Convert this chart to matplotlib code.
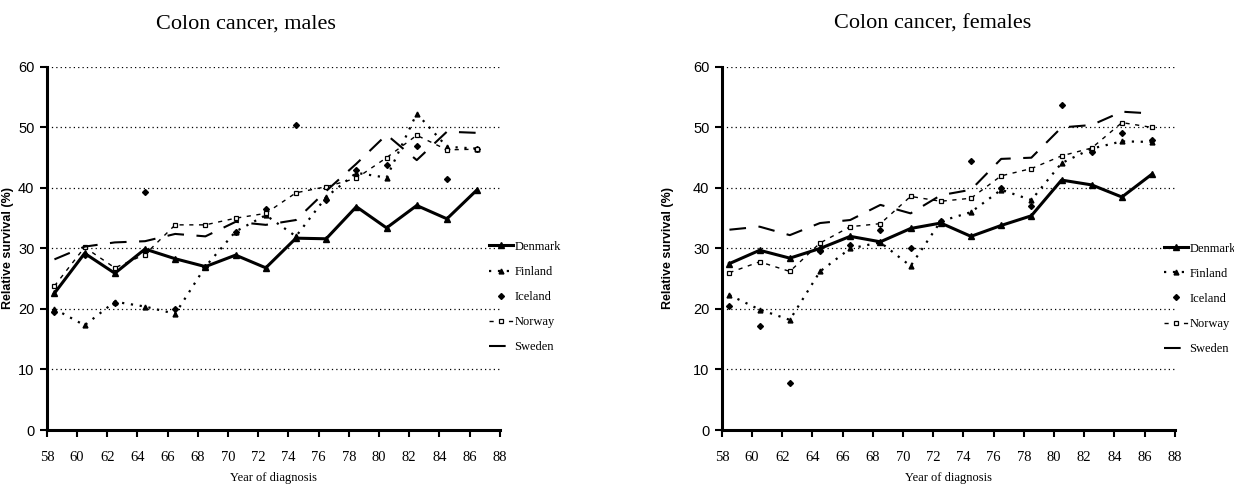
import matplotlib.pyplot as plt

# Periodos de diagnostico (punto medio de cada periodo de 2 años)
years = [58.5, 60.5, 62.5, 64.5, 66.5, 68.5, 70.5, 72.5, 74.5, 76.5, 78.5, 80.5, 82.5, 84.5, 86.5]

# Hombres
denmark_m = [22.6, 29.2, 25.9, 29.9, 28.3, 27.0, 28.9, 26.8, 31.7, 31.6, 36.9, 33.4, 37.1, 34.9, 39.7]
finland_m = [20.0, 17.3, 21.2, 20.4, 19.2, 27.0, 32.8, 35.5, 32.0, 38.5, 42.5, 41.7, 52.3, 46.8, 46.5]
iceland_m = [19.5, 29.0, 21.0, 39.4, 20.0, 27.0, 32.8, 36.5, 50.4, 38.0, 43.0, 43.8, 47.0, 41.5, 46.5]
norway_m = [23.8, 30.2, 26.8, 29.0, 33.9, 33.9, 35.0, 35.8, 39.2, 40.2, 41.6, 45.0, 48.7, 46.3, 46.4]
sweden_m = [28.2, 30.3, 31.0, 31.2, 32.4, 32.0, 34.4, 33.9, 34.7, 39.5, 44.0, 48.8, 44.6, 49.3, 49.1]

# Mujeres
denmark_f = [27.5, 29.7, 28.4, 30.0, 32.0, 31.1, 33.3, 34.2, 32.0, 33.8, 35.4, 41.3, 40.5, 38.5, 42.3]
finland_f = [22.3, 19.9, 18.2, 26.2, 30.0, 31.0, 27.1, 34.5, 36.0, 39.7, 38.0, 44.1, 46.5, 47.7, 47.6]
iceland_f = [20.5, 17.2, 7.8, 29.5, 30.5, 33.0, 30.0, 34.5, 44.5, 40.0, 37.0, 53.7, 46.0, 49.1, 48.0]
norway_f = [26.0, 27.8, 26.2, 30.9, 33.6, 34.1, 38.6, 37.8, 38.3, 42.0, 43.2, 45.3, 46.6, 50.8, 50.0]
sweden_f = [33.1, 33.6, 32.2, 34.2, 34.7, 37.2, 35.8, 38.8, 39.7, 44.8, 45.0, 50.0, 50.4, 52.6, 52.3]

xticks = list(range(58, 90, 2))
yticks = [0, 10, 20, 30, 40, 50, 60]

fig = plt.figure(figsize=(12.34, 4.92), dpi=100)
ax1 = fig.add_axes([0.038, 0.126, 0.367, 0.738])
ax2 = fig.add_axes([0.585, 0.126, 0.367, 0.738])


def panel(ax, dk, fi, ic, no, se, leg_y):
    ax.plot(years, dk, color='black', lw=2.2, marker='^', ms=4, label='Denmark')
    ax.plot(years, fi, color='black', lw=1.6, ls=(0, (1, 3)), marker='^', ms=3.5, label='Finland')
    ax.plot(years, ic, color='black', lw=0, marker='D', ms=3, label='Iceland')
    ax.plot(years, no, color='black', lw=1.0, ls=(0, (3, 4)), marker='s', ms=3.5,
            mfc='white', mew=0.9, label='Norway')
    ax.plot(years, se, color='black', lw=1.5, ls=(0, (8, 6)), label='Sweden')

    ax.set_xlim(58, 88)
    ax.set_ylim(0, 60)
    ax.set_xticks(xticks)
    ax.set_xticklabels([str(t) for t in xticks], family='Liberation Serif', fontsize=10.5)
    ax.set_yticks(yticks)
    ax.set_yticklabels([str(t) for t in yticks], family='Liberation Sans', fontsize=10.5)
    ax.tick_params(axis='x', length=5, width=1.5, pad=10)
    ax.tick_params(axis='y', length=5, width=1.5, pad=4)
    for y in yticks[1:]:
        ax.axhline(y, color='black', lw=0.9, ls=(0, (1, 2.5)), zorder=0)
    ax.spines['top'].set_visible(False)
    ax.spines['right'].set_visible(False)
    ax.spines['left'].set_linewidth(2.2)
    ax.spines['bottom'].set_linewidth(2.2)
    ax.set_xlabel('Year of diagnosis', family='Liberation Serif', fontsize=9, labelpad=6)
    ax.legend(loc='upper left', bbox_to_anchor=(0.965, leg_y), frameon=False,
              prop={'family': 'Liberation Serif', 'size': 9}, handlelength=1.9,
              handletextpad=0.15, labelspacing=1.05, borderaxespad=0)


panel(ax1, denmark_m, finland_m, iceland_m, norway_m, sweden_m, 0.535)
panel(ax2, denmark_f, finland_f, iceland_f, norway_f, sweden_f, 0.53)

ax1.set_ylabel('Relative survival (%)', family='Liberation Sans', fontweight='bold', fontsize=9, labelpad=3)
ax2.set_ylabel('Relative survival (%)', family='Liberation Sans', fontweight='bold', fontsize=9, labelpad=14)

fig.text(0.199, 0.952, 'Colon cancer, males', family='Liberation Serif', fontsize=16, ha='center', va='center')
fig.text(0.756, 0.952, 'Colon cancer, females', family='Liberation Serif', fontsize=16, ha='center', va='center')

fig.savefig('out.png', dpi=100)
